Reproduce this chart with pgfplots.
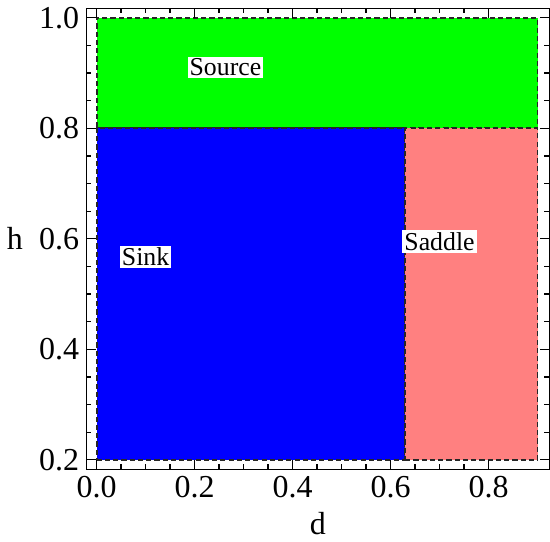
\documentclass[border=0pt]{standalone}
\usepackage{fontspec}
\setmainfont{Liberation Serif}
\usepackage{pgfplots}
\pgfplotsset{compat=1.18}
\definecolor{srcGreen}{RGB}{0,255,0}
\definecolor{sinkBlue}{RGB}{0,0,255}
\definecolor{sadPink}{RGB}{255,128,128}

\begin{document}
\begin{tikzpicture}
\begin{axis}[
  width=224.5pt, height=223.5pt,
  scale only axis,
  xmin=-0.021, xmax=0.924,
  ymin=0.183, ymax=1.017,
  xtick={0,0.2,0.4,0.6,0.8},
  ytick={0.2,0.4,0.6,0.8,1.0},
  minor x tick num=3, minor y tick num=3,
  tick align=inside,
  major tick length=4.5pt, minor tick length=2.5pt,
  every tick/.style={black, line width=0.6pt},
  xticklabel style={/pgf/number format/.cd,fixed,fixed zerofill,precision=1},
  yticklabel style={/pgf/number format/.cd,fixed,fixed zerofill,precision=1},
  /pgf/number format/assume math mode=true,
  tick label style={font=\fontsize{15.5}{17}\selectfont},
  label style={font=\fontsize{15.5}{17}\selectfont},
  xlabel={d}, ylabel={h},
  ylabel style={rotate=-90, xshift=-1pt},
  axis line style={line width=0.7pt},
  axis on top,
]
\addplot[fill=srcGreen, draw=black!85, dash pattern=on 2.5pt off 1.5pt, line width=0.9pt]
  coordinates {(0,0.8) (0.9,0.8) (0.9,1.0) (0,1.0)} --cycle;
\addplot[fill=sinkBlue, draw=black!85, dash pattern=on 2.5pt off 1.5pt, line width=0.9pt]
  coordinates {(0,0.2) (0.63,0.2) (0.63,0.8) (0,0.8)} --cycle;
\addplot[fill=sadPink, draw=black!85, dash pattern=on 2.5pt off 1.5pt, line width=0.9pt]
  coordinates {(0.63,0.2) (0.9,0.2) (0.9,0.8) (0.63,0.8)} --cycle;
\node[fill=white, inner sep=1pt, font=\fontsize{12.5}{14}\selectfont] at (axis cs:0.263,0.91) {Source};
\node[fill=white, inner sep=1pt, font=\fontsize{12.5}{14}\selectfont] at (axis cs:0.10,0.567) {Sink};
\node[fill=white, inner sep=1pt, font=\fontsize{12.5}{14}\selectfont] at (axis cs:0.70,0.595) {Saddle};
\end{axis}
\end{tikzpicture}
\end{document}
